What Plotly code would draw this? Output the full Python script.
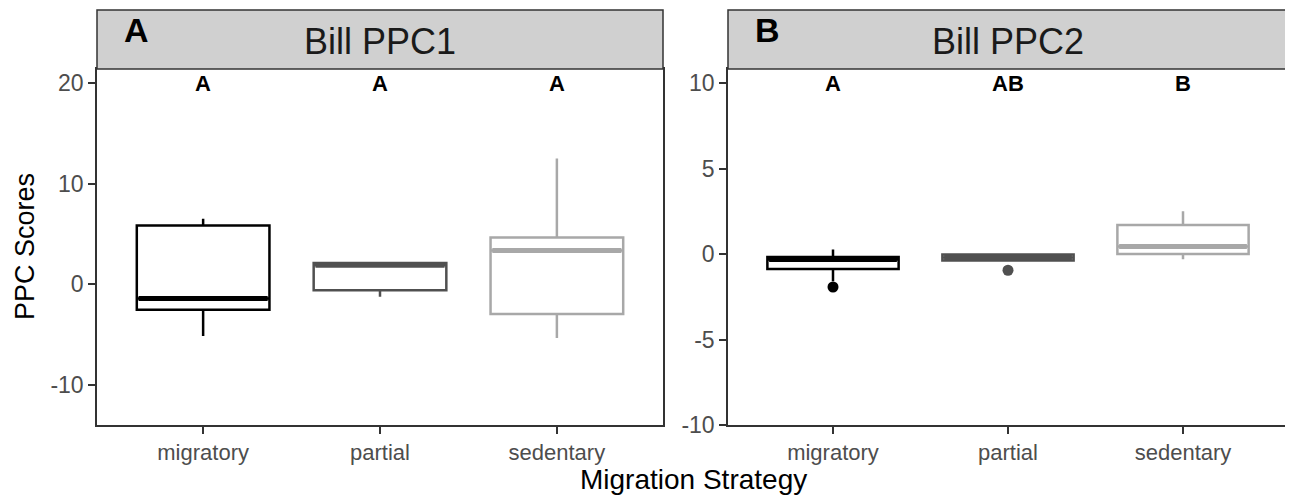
import plotly.graph_objects as go

# ---------------- data ----------------
categories = ["migratory", "partial", "sedentary"]
colors = ["#000000", "#505050", "#A8A8A8"]

ppc1_q1 = [-2.55, -0.6, -2.95]
ppc1_median = [-1.42, 1.89, 3.35]
ppc1_q3 = [5.85, 2.1, 4.65]
ppc1_lower = [-5.15, -1.25, -5.35]
ppc1_upper = [6.5, 2.1, 12.5]
ppc1_outliers = [[], [], []]
ppc1_letters = ["A", "A", "A"]

ppc2_q1 = [-0.88, -0.38, 0.0]
ppc2_median = [-0.32, -0.2, 0.44]
ppc2_q3 = [-0.18, -0.03, 1.7]
ppc2_lower = [-1.6, -0.38, -0.31]
ppc2_upper = [0.27, -0.03, 2.5]
ppc2_outliers = [[-1.93], [-0.95], []]
ppc2_letters = ["A", "AB", "B"]

panel_titles = ["Bill PPC1", "Bill PPC2"]
panel_tags = ["A", "B"]
y_ranges = [[-14.0, 21.4], [-10.0, 10.82]]
y_ticks = [[-10, 0, 10, 20], [-10, -5, 0, 5, 10]]
y_ticktext = [["-10", "0", "10", "20"], ["-10", "-5", "0", "5", "10"]]
letter_y = [20, 10]

# ---------------- layout constants ----------------
# page body has an 8px margin, so the figure is drawn 8px right/down
OFF = 8
W, H = 1293 - OFF, 498 - OFF
FONT = "Liberation Sans, Arial, sans-serif"
BOX_W = 0.75


def px(x):
    return (x - OFF) / W


def py(y):
    return 1 - (y - OFF) / H


x_domains = [[px(97), px(663)], [px(728), px(1288)]]
y_domain = [py(425), py(69)]
strip_top = py(10)

panels = [
    dict(q1=ppc1_q1, med=ppc1_median, q3=ppc1_q3, lo=ppc1_lower, hi=ppc1_upper,
         out=ppc1_outliers, letters=ppc1_letters),
    dict(q1=ppc2_q1, med=ppc2_median, q3=ppc2_q3, lo=ppc2_lower, hi=ppc2_upper,
         out=ppc2_outliers, letters=ppc2_letters),
]

fig = go.Figure()
annotations = []
shapes = []
xpos = list(range(len(categories)))

for p, d in enumerate(panels):
    xa = "x" if p == 0 else "x2"
    ya = "y" if p == 0 else "y2"
    for i, cat in enumerate(categories):
        fig.add_trace(go.Box(
            x=[xpos[i]], q1=[d["q1"][i]], median=[d["med"][i]], q3=[d["q3"][i]],
            lowerfence=[d["lo"][i]], upperfence=[d["hi"][i]],
            width=BOX_W, whiskerwidth=0, fillcolor="white",
            line=dict(color=colors[i], width=2.5),
            boxpoints=False, showlegend=False, xaxis=xa, yaxis=ya,
            hoverinfo="skip",
        ))
        # thicker median line (ggplot style)
        fig.add_trace(go.Scatter(
            x=[xpos[i] - BOX_W / 2 + 0.01, xpos[i] + BOX_W / 2 - 0.01],
            y=[d["med"][i], d["med"][i]], mode="lines",
            line=dict(color=colors[i], width=5), showlegend=False,
            xaxis=xa, yaxis=ya, hoverinfo="skip",
        ))
        if d["out"][i]:
            fig.add_trace(go.Scatter(
                x=[xpos[i]] * len(d["out"][i]), y=d["out"][i], mode="markers",
                marker=dict(color=colors[i], size=11), showlegend=False,
                xaxis=xa, yaxis=ya, hoverinfo="skip",
            ))
        annotations.append(dict(
            x=xpos[i], y=letter_y[p], xref=xa, yref=ya, text="<b>%s</b>" % d["letters"][i],
            showarrow=False, font=dict(family=FONT, size=22, color="black"),
            xanchor="center", yanchor="middle",
        ))
    # strip
    shapes.append(dict(type="rect", xref="paper", yref="paper",
                       x0=x_domains[p][0], x1=x_domains[p][1],
                       y0=y_domain[1], y1=strip_top,
                       fillcolor="#D0D0D0", line=dict(color="#333333", width=1.5),
                       layer="above"))
    annotations.append(dict(
        x=(x_domains[p][0] + x_domains[p][1]) / 2, y=py(41),
        xref="paper", yref="paper", text=panel_titles[p], showarrow=False,
        font=dict(family=FONT, size=36, color="#1A1A1A"), xanchor="center", yanchor="middle",
    ))
    annotations.append(dict(
        x=x_domains[p][0] + 39 / W, y=py(30), xref="paper", yref="paper",
        text="<b>%s</b>" % panel_tags[p], showarrow=False,
        font=dict(family=FONT, size=34, color="black"), xanchor="center", yanchor="middle",
    ))

annotations.append(dict(
    x=px(693), y=py(479), xref="paper", yref="paper",
    text="Migration Strategy", showarrow=False, font=dict(family=FONT, size=28, color="black"),
    xanchor="center", yanchor="middle",
))
annotations.append(dict(
    x=px(25), y=(y_domain[0] + y_domain[1]) / 2, xref="paper", yref="paper",
    text="PPC Scores", showarrow=False, textangle=-90,
    font=dict(family=FONT, size=27, color="black"), xanchor="center", yanchor="middle",
))

axis_common = dict(showgrid=False, zeroline=False, showline=True, linecolor="#333333",
                   linewidth=1.5, mirror=True, ticks="outside", ticklen=7, tickwidth=1.5,
                   tickcolor="#333333", automargin=False,
                   tickfont=dict(family=FONT, size=23, color="#4D4D4D"))

layout = dict(
    width=W, height=H, margin=dict(l=0, r=0, t=0, b=0, autoexpand=False),
    paper_bgcolor="white", plot_bgcolor="white", showlegend=False,
    annotations=annotations, shapes=shapes,
)
for p in range(2):
    sx = "" if p == 0 else "2"
    layout["xaxis" + sx] = dict(axis_common, domain=x_domains[p], range=[-0.6, 2.6],
                                tickvals=xpos, ticktext=categories, anchor="y" + sx,
                                tickfont=dict(family=FONT, size=22, color="#4D4D4D"))
    layout["yaxis" + sx] = dict(axis_common, domain=y_domain, range=y_ranges[p],
                                tickvals=y_ticks[p], ticktext=y_ticktext[p], anchor="x" + sx)

fig.update_layout(**layout)
fig.write_html("out.html")
